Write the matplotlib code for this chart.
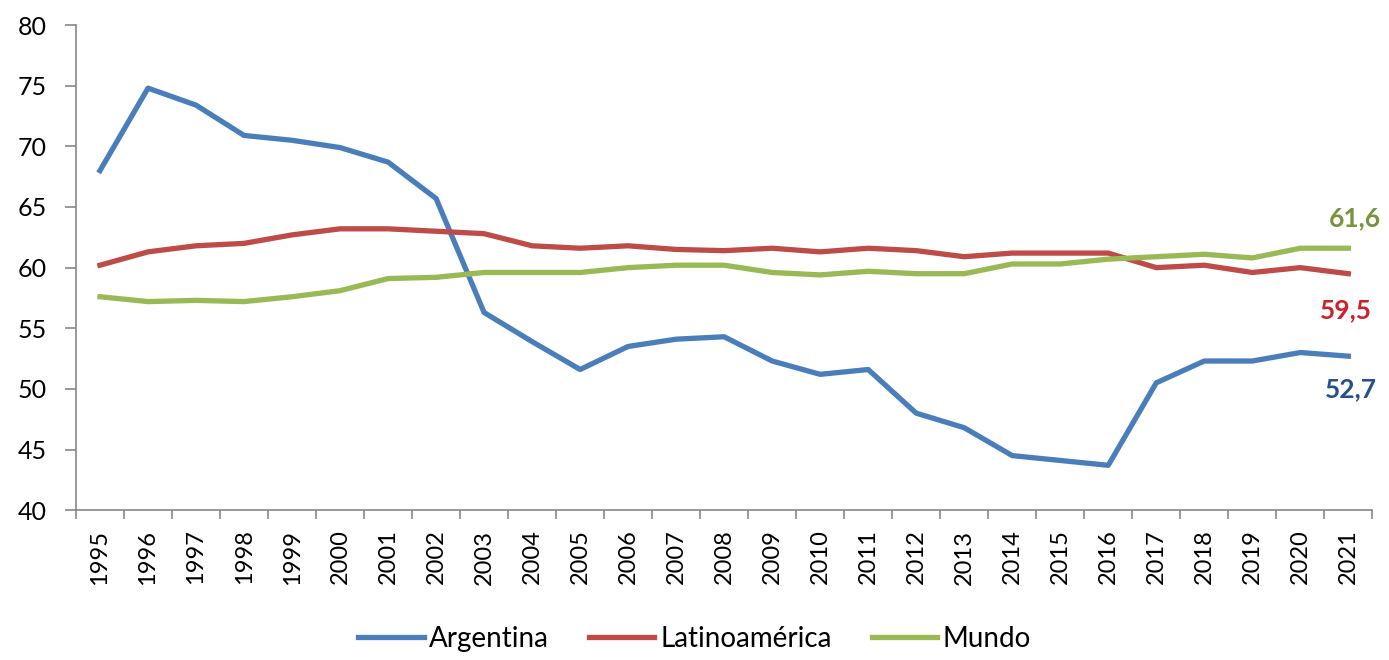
import numpy as np
import matplotlib
matplotlib.use('Agg')
from matplotlib import pyplot as plt
from matplotlib.ticker import FixedLocator

years = [str(y) for y in range(1995, 2022)]

argentina = [68.0, 74.8, 73.4, 70.9, 70.5, 69.9, 68.7, 65.7, 56.3, 53.9, 51.6, 53.5, 54.1, 54.3,
             52.3, 51.2, 51.6, 48.0, 46.8, 44.5, 44.1, 43.7, 50.5, 52.3, 52.3, 53.0, 52.7]
latam = [60.2, 61.3, 61.8, 62.0, 62.7, 63.2, 63.2, 63.0, 62.8, 61.8, 61.6, 61.8, 61.5, 61.4,
         61.6, 61.3, 61.6, 61.4, 60.9, 61.2, 61.2, 61.2, 60.0, 60.2, 59.6, 60.0, 59.5]
mundo = [57.6, 57.2, 57.3, 57.2, 57.6, 58.1, 59.1, 59.2, 59.6, 59.6, 59.6, 60.0, 60.2, 60.2,
         59.6, 59.4, 59.7, 59.5, 59.5, 60.3, 60.3, 60.7, 60.9, 61.1, 60.8, 61.6, 61.6]

plt.rcParams['font.family'] = ['Lato', 'DejaVu Sans']

fig = plt.figure(figsize=(13.89, 6.6), dpi=100)
ax = fig.add_axes([0.0547, 0.227, 0.9333, 0.735])

x = np.arange(len(years))
ax.plot(x, argentina, color='#4a7ebb', lw=3.8, label='Argentina', solid_joinstyle='round')
ax.plot(x, latam, color='#be4b48', lw=3.8, label='Latinoamérica', solid_joinstyle='round')
ax.plot(x, mundo, color='#98b954', lw=3.8, label='Mundo', solid_joinstyle='round')

# etiquetas al final de cada serie
ax.annotate('61,6', (x[-1], mundo[-1]), xytext=(5, 22), textcoords='offset points',
            ha='center', va='center', color='#77933c', fontsize=19, fontweight='bold')
ax.annotate('59,5', (x[-1], latam[-1]), xytext=(-2, -26), textcoords='offset points',
            ha='center', va='center', color='#d0202a', fontsize=19, fontweight='bold')
ax.annotate('52,7', (x[-1], argentina[-1]), xytext=(2, -24), textcoords='offset points',
            ha='center', va='center', color='#264f8c', fontsize=19, fontweight='bold')

ax.set_xlim(-0.5, len(years) - 0.5)
ax.set_ylim(40, 80)
ax.set_yticks(range(40, 81, 5))
ax.set_xticks(x)
ax.set_xticklabels(years, rotation=90)
ax.xaxis.set_minor_locator(FixedLocator(np.arange(-0.5, len(years), 1)))
ax.tick_params(axis='x', which='major', length=0, pad=14, labelsize=17)
ax.tick_params(axis='x', which='minor', length=6.5, color='#868686', width=1.2)
ax.tick_params(axis='y', length=8, color='#868686', width=1.2, labelsize=18, pad=13)

for s in ['top', 'right']:
    ax.spines[s].set_visible(False)
for s in ['left', 'bottom']:
    ax.spines[s].set_color('#868686')
    ax.spines[s].set_linewidth(1.2)

fig.legend(loc='center', bbox_to_anchor=(0.5, 0.032), ncol=3, frameon=False,
           fontsize=20, handlelength=2.35, columnspacing=1.45, handletextpad=0.2)

fig.savefig('out.png', dpi=100)
